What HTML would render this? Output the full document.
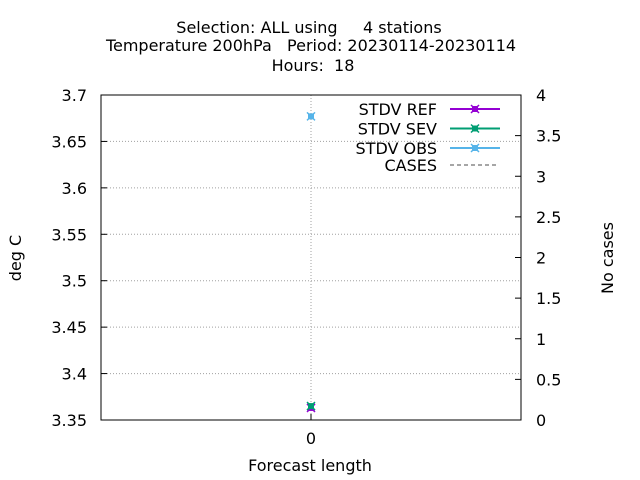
<!DOCTYPE html>
<html><head><meta charset="utf-8"><style>body{margin:0;background:#fff}svg{display:block;font-family:"DejaVu Sans","Liberation Sans",sans-serif}</style></head>
<body>
<svg id="chart" width="640" height="480">
<g id="titles" font-size="16" text-anchor="middle" fill="#000">
<text x="309" y="33" xml:space="preserve">Selection: ALL using     4 stations</text>
<text x="311" y="51" xml:space="preserve">Temperature 200hPa   Period: 20230114-20230114</text>
<text x="313" y="71" xml:space="preserve">Hours:  18</text>
</g>
<g id="grid"></g><g id="axes"></g><g id="marks"></g>
<text x="310" y="471" font-size="16" text-anchor="middle">Forecast length</text>
<text transform="translate(21,258) rotate(-90)" font-size="16" text-anchor="middle">deg C</text>
<text transform="translate(613,258) rotate(-90)" font-size="16" text-anchor="middle">No cases</text>
<g id="legend" font-size="16" text-anchor="end"></g>
</svg>
<script>
const categories=[0];
const stdvRef=[3.363];
const stdvSev=[3.365];
const stdvObs=[3.677];
const cases=[4];
const yTicks=[3.35,3.4,3.45,3.5,3.55,3.6,3.65,3.7];
const y2Ticks=[0,0.5,1,1.5,2,2.5,3,3.5,4];
const L=101,R=521,T=95,B=420,NS="http://www.w3.org/2000/svg";
const xs=v=>L+(v-(-1))/2*(R-L);
const ys=v=>B-(v-3.35)/(3.7-3.35)*(B-T);
const y2=v=>B-v/4*(B-T);
function mk(p,t,a){const e=document.createElementNS(NS,t);for(const k in a)e.setAttribute(k,a[k]);document.getElementById(p).appendChild(e);return e;}
yTicks.forEach(v=>{const y=ys(v);
if(v>3.35&&v<3.7){const g=mk('grid','line',{x1:L,x2:R,y1:y,y2:y,stroke:'#a0a0a0','stroke-dasharray':'1,2'});

}
const t=mk('axes','text',{x:L-14,y:y+6,'font-size':16,'text-anchor':'end'});
t.textContent=String(v);


mk('axes','line',{x1:L,x2:L+6,y1:y,y2:y,stroke:'#000'});});
y2Ticks.forEach(v=>{const y=y2(v);
const t=mk('axes','text',{x:R+15,y:y+6,'font-size':16});t.textContent=String(v);


mk('axes','line',{x1:R-6,x2:R,y1:y,y2:y,stroke:'#000'});});
categories.forEach(c=>{const x=xs(c);
const g=mk('grid','line',{x1:x,x2:x,y1:T,y2:B,stroke:'#a0a0a0','stroke-dasharray':'1,2'});


mk('axes','line',{x1:x,x2:x,y1:B-6,y2:B,stroke:'#000'});
const t=mk('axes','text',{x:x,y:B+24,'font-size':16,'text-anchor':'middle'});t.textContent=String(c);

});
const frame=mk('axes','rect',{x:L,y:T,width:R-L,height:B-T,fill:'none',stroke:'#000'});


function marker(p,x,y,col){mk(p,'rect',{x:x-3,y:y-3,width:6,height:6,fill:col});mk(p,'path',{d:`M${x-4} ${y-4}L${x+4} ${y+4}M${x+4} ${y-4}L${x-4} ${y+4}`,stroke:col,'stroke-width':1.5});}
const series=[['STDV REF',stdvRef,'#9400d3'],['STDV SEV',stdvSev,'#009e73'],['STDV OBS',stdvObs,'#56b4e9']];
series.forEach((s,i)=>{s[1].forEach((v,j)=>{const g=mk('marks','g',{});g.id='m'+i+'_'+j;


marker(g.id,xs(categories[j]),ys(v),s[2]);});
const ly=109+i*19.5;
const t=mk('legend','text',{x:437,y:ly+6});t.textContent=s[0];


const ln=mk('legend','line',{x1:450,x2:500,y1:ly,y2:ly,stroke:s[2],'stroke-width':2});


const lg=mk('legend','g',{});lg.id='lg'+i;marker('lg'+i,475,ly,s[2]);});
const ct=mk('legend','text',{x:437,y:171});ct.textContent='CASES';


const cl=mk('legend','line',{x1:450,x2:496,y1:165,y2:165,stroke:'#888','stroke-width':1.5,'stroke-dasharray':'4,3'});


</script>
</body></html>
